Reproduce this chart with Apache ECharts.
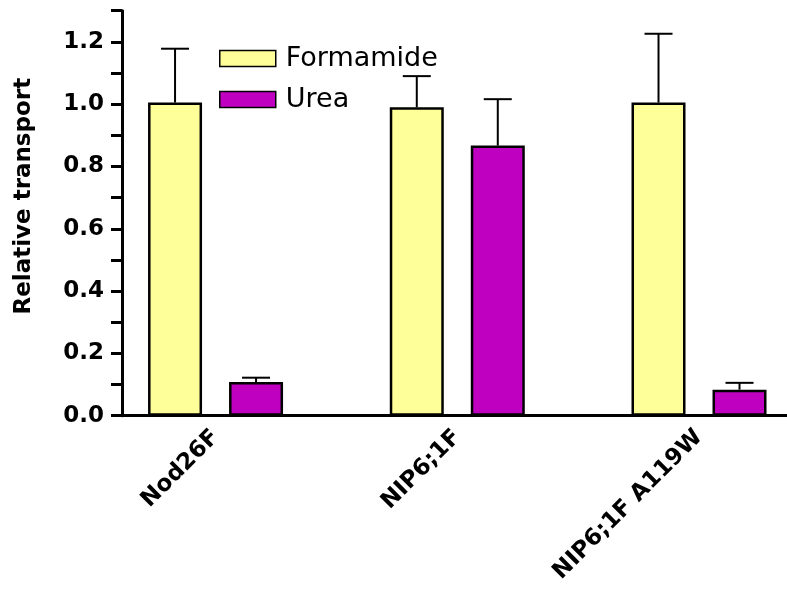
<!DOCTYPE html>
<html>
<head>
<meta charset="utf-8">
<script src="https://cdn.jsdelivr.net/npm/echarts@6/dist/echarts.min.js"></script>
<style>
  html, body { margin: 0; padding: 0; background: #fff; }
  #chart { width: 787px; height: 592px; }
</style>
</head>
<body>
<div id="chart"></div>
<script>
// ---- data ----
const categories = ['Nod26F', 'NIP6;1F', 'NIP6;1F A119W'];
const seriesNames = ['Formamide', 'Urea'];
const formamide = [1.005, 0.99, 1.005];
const formamideSD = [0.173, 0.10, 0.221];
const urea = [0.108, 0.867, 0.0835];
const ureaSD = [0.014, 0.149, 0.022];

// ---- style ----
const FONT = 'DejaVu Sans';
const BAR_W = 54;
const BAR_GAP = 27;
const OFFSET = (BAR_W + BAR_GAP) / 2;

function toBarData(vals) { return vals.map((v, i) => [i, v]); }
function toErrData(vals, sds) { return vals.map((v, i) => [i, v, sds[i]]); }

function errRender(offset) {
  return function (params, api) {
    const x = api.value(0), v = api.value(1), sd = api.value(2);
    const base = api.coord([x, v]);
    const top = api.coord([x, v + sd]);
    const cx = base[0] + offset;
    return {
      type: 'group',
      children: [
        { type: 'line', shape: { x1: cx, y1: base[1], x2: cx, y2: top[1] }, style: { stroke: '#000', lineWidth: 2 } },
        { type: 'line', shape: { x1: cx - 14, y1: top[1], x2: cx + 14, y2: top[1] }, style: { stroke: '#000', lineWidth: 2 } }
      ]
    };
  };
}

const chart = echarts.init(document.getElementById('chart'), null, { renderer: 'canvas' });
chart.setOption({
  animation: false,
  backgroundColor: '#fff',
  grid: { left: 122, right: 0, top: 10.7, bottom: 176.3, containLabel: false, outerBoundsMode: 'none' },
  legend: {
    data: seriesNames,
    orient: 'vertical',
    left: 219,
    top: 45,
    padding: 0,
    itemWidth: 56,
    itemHeight: 16,
    itemGap: 14,
    icon: 'rect',
    itemStyle: { borderWidth: 1.5, borderColor: '#000' },
    textStyle: { fontFamily: FONT, fontSize: 27, color: '#000', padding: [0, 0, 0, 5] }
  },
  xAxis: {
    type: 'value',
    min: -0.387,
    max: 2.364,
    splitLine: { show: false },
    axisLine: { show: true, onZero: false, lineStyle: { color: '#000', width: 3 } },
    axisTick: { show: false },
    axisLabel: {
      customValues: [0, 1, 2],
      formatter: v => categories[Math.round(v)] || '',
      rotate: 45,
      margin: 18,
      fontFamily: FONT,
      fontWeight: 'bold',
      fontSize: 23,
      color: '#000'
    }
  },
  yAxis: {
    type: 'value',
    min: 0,
    max: 1.3,
    interval: 0.1,
    name: 'Relative transport',
    nameLocation: 'middle',
    nameRotate: 90,
    nameGap: 86,
    nameTextStyle: { fontFamily: FONT, fontWeight: 'bold', fontSize: 23, color: '#000', padding: [0, 0, 0, 34] },
    splitLine: { show: false },
    axisLine: { show: true, onZero: false, lineStyle: { color: '#000', width: 3 } },
    axisTick: { show: true, length: 11, lineStyle: { color: '#000', width: 3 } },
    axisLabel: {
      margin: 18,
      fontFamily: FONT,
      fontWeight: 'bold',
      fontSize: 23,
      color: '#000',
      formatter: v => (Math.round(v * 10) % 2 === 0 && v < 1.25) ? v.toFixed(1) : ''
    }
  },
  series: [
    {
      name: seriesNames[0], type: 'bar', data: toBarData(formamide),
      barWidth: BAR_W, barGap: (BAR_GAP / BAR_W * 100) + '%',
      itemStyle: { color: '#FFFF99', borderColor: '#000', borderWidth: 2.5 }
    },
    {
      name: seriesNames[1], type: 'bar', data: toBarData(urea),
      barWidth: BAR_W, barGap: (BAR_GAP / BAR_W * 100) + '%',
      itemStyle: { color: '#C000C0', borderColor: '#000', borderWidth: 2.5 }
    },
    {
      type: 'custom', name: 'err1', data: toErrData(formamide, formamideSD),
      renderItem: errRender(-OFFSET), encode: { x: 0, y: 1 }, clip: false, z: 3
    },
    {
      type: 'custom', name: 'err2', data: toErrData(urea, ureaSD),
      renderItem: errRender(OFFSET), encode: { x: 0, y: 1 }, clip: false, z: 3
    }
  ]
});
</script>
</body>
</html>
